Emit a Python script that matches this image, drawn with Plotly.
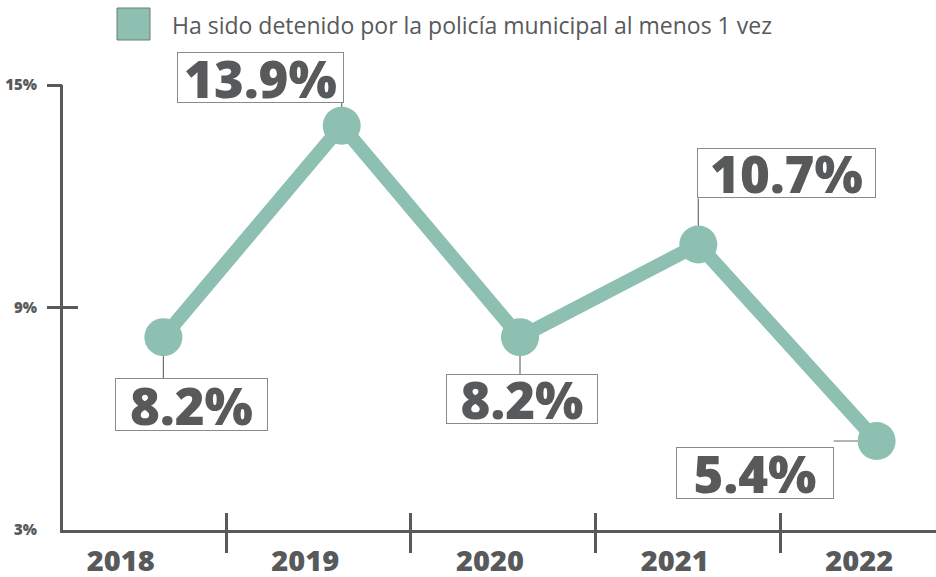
import plotly.graph_objects as go

# ---- data ----
years = [2018, 2019, 2020, 2021, 2022]
year_labels = ["2018", "2019", "2020", "2021", "2022"]
values = [8.2, 13.9, 8.2, 10.7, 5.4]
value_labels = ["8.2%", "13.9%", "8.2%", "10.7%", "5.4%"]
y_tick_vals = [3, 9, 15]
y_tick_text = ["3%", "9%", "15%"]
legend_text = "Ha sido detenido por la policía municipal al menos 1 vez"

# ---- styling ----
TEAL = "#8dc0b1"
DARK = "#58595b"
BORDER = "#8a8a8a"
BOLD = "Open Sans"

# label box placement (pixel offsets from each point): xshift, yshift, width, height
box_style = [(28, -67, 151, 51), (-81, 48, 165, 49), (2, -62, 150, 48),
             (88, 71, 177, 48), (-122, -32, 156, 50)]
# connector lines (pixel offsets from the point): dx, dy
connectors = [(0, -41), (0, 23), (0, -37), (0, 46), (-43, 0)]

fig = go.Figure()
fig.add_trace(go.Scatter(
    x=years, y=values, mode="lines+markers", xaxis="x", yaxis="y",
    line=dict(color=TEAL, width=14), marker=dict(color=TEAL, size=38),
    cliponaxis=False, showlegend=False, hoverinfo="skip"))
# invisible helpers so the overlay axes are drawn
fig.add_trace(go.Scatter(x=year_labels, y=values, xaxis="x2", yaxis="y2", mode="markers",
                         marker=dict(opacity=0), showlegend=False, hoverinfo="skip"))
fig.add_trace(go.Scatter(x=year_labels, y=values, xaxis="x3", yaxis="y3", mode="markers",
                         marker=dict(opacity=0), showlegend=False, hoverinfo="skip"))

cat_range = [-0.3827, 4.3447]
fig.update_layout(
    width=936, height=577,
    margin=dict(l=63, r=0, t=85, b=47, autoexpand=False),
    paper_bgcolor="white", plot_bgcolor="white",
    showlegend=False,
    xaxis=dict(range=[2017.437, 2022.333], visible=False, automargin=False),
    xaxis2=dict(type="category", overlaying="x", anchor="y", side="bottom",
                range=cat_range, showline=True, linecolor=DARK, linewidth=3,
                ticks="outside", tickson="boundaries", ticklen=20, tickwidth=3,
                tickcolor=DARK, showgrid=False, zeroline=False, automargin=False,
                tickfont=dict(family=BOLD, size=29, color=DARK, weight=800),
                ticklabelshift=-13, ticklabelstandoff=3),
    xaxis3=dict(type="category", overlaying="x", anchor="y", side="bottom",
                range=cat_range, showline=False, ticks="inside", tickson="boundaries",
                ticklen=17, tickwidth=3, tickcolor=DARK, showgrid=False, automargin=False,
                zeroline=False, showticklabels=False),
    yaxis=dict(range=[3, 15], showline=True, linecolor=DARK, linewidth=3,
               tickvals=y_tick_vals, ticktext=y_tick_text, ticks="", automargin=False,
               showgrid=False, zeroline=False, ticklabelstandoff=20,
               tickfont=dict(family=BOLD, size=15, color=DARK, weight=800)),
    yaxis2=dict(range=[3, 15], overlaying="y", anchor="x", side="left",
                tickvals=y_tick_vals[1:], ticks="outside", ticklen=15, tickwidth=3,
                tickcolor=DARK, showticklabels=False, showline=False, automargin=False,
                showgrid=False, zeroline=False),
    yaxis3=dict(range=[3, 15], overlaying="y", anchor="x", side="left",
                tickvals=y_tick_vals[1:], ticks="inside", ticklen=15, tickwidth=3,
                tickcolor=DARK, showticklabels=False, showline=False, automargin=False,
                showgrid=False, zeroline=False),
)

for yr, v, lab, (xs, ys, w, h), (dx, dy) in zip(years, values, value_labels, box_style, connectors):
    fig.add_shape(type="line", xref="x", yref="y", layer="below",
                  xsizemode="pixel", xanchor=yr, x0=0, x1=dx,
                  ysizemode="pixel", yanchor=v, y0=0, y1=dy,
                  line=dict(color="#6d6e70", width=1.2))
    fig.add_annotation(x=yr, y=v, xref="x", yref="y", text=lab, showarrow=False,
                       xshift=xs, yshift=ys, width=w, height=h,
                       bgcolor="white", bordercolor=BORDER, borderwidth=1, borderpad=0,
                       font=dict(family=BOLD, size=51, color=DARK, weight=800))

# legend swatch + text
fig.add_shape(type="rect", xref="paper", yref="paper",
              xsizemode="pixel", xanchor=0, x0=54, x1=87,
              ysizemode="pixel", yanchor=1, y0=77, y1=45,
              fillcolor=TEAL, line=dict(color="#777777", width=1))
fig.add_annotation(xref="paper", yref="paper", x=0, y=1, xanchor="left", yanchor="middle",
                   xshift=107, yshift=60, showarrow=False, text=legend_text,
                   font=dict(family="Open Sans", size=23, color=DARK))

fig.write_html("out.html", config={"displayModeBar": False},
               post_script="document.body.style.margin='0';document.body.style.overflow='hidden';")
